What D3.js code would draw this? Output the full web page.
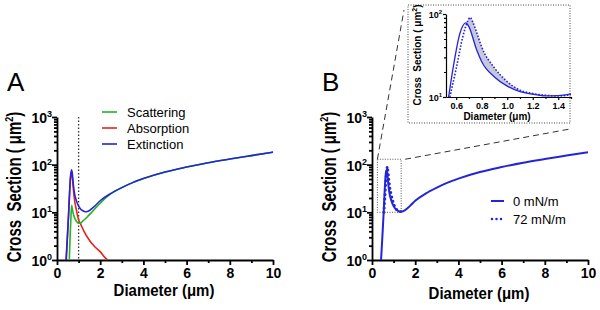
<!DOCTYPE html>
<html>
<head>
<meta charset="utf-8">
<script src="https://cdn.jsdelivr.net/npm/d3@7"></script>
<style>
  body { margin: 0; background: #fff; }
  svg text { font-family: Arial, "Liberation Sans", sans-serif; white-space: pre; }
</style>
</head>
<body>
<div id="chart"></div>
<script>
// data (diameter in um, cross section in um^2)
const extDiam = [0.42, 0.50, 0.54, 0.577, 0.63, 0.675, 0.70, 0.76, 0.80, 0.90, 1.00, 1.10, 1.20, 1.30, 1.40, 1.50, 1.75, 2.00, 2.50, 3.00, 3.50, 4.00, 5.00, 6.00, 7.00, 8.00, 9.00, 10.00];
const extVal  = [1.0, 4.5, 10, 23, 59, 78, 70, 37, 26.6, 17.4, 13.5, 11.6, 10.8, 10.3, 10.4, 10.9, 13.5, 17.5, 25, 33, 42, 51, 70, 89, 110, 131, 155, 183];

const scatDiam = [0.57, 0.60, 0.64, 0.68, 0.72, 0.80, 0.90, 1.00, 1.10, 1.20, 1.40, 1.60, 1.80, 2.00, 2.25, 2.50, 3.00, 3.50, 4.00, 5.00, 6.00, 7.00, 8.00, 9.00, 10.00];
const scatVal  = [1.0, 2.5, 7, 14, 11, 8, 6.5, 5.9, 6.0, 6.6, 8, 10, 12.5, 15.5, 20, 24.6, 33, 42, 51, 70, 89, 110, 131, 155, 183];

const absDiam = [0.43, 0.54, 0.63, 0.675, 0.70, 0.76, 0.80, 0.90, 1.00, 1.10, 1.25, 1.50, 1.75, 2.00, 2.20, 2.35];
const absVal  = [1.0, 9.5, 55, 64, 58, 30, 20, 11, 7, 5.6, 4.0, 2.6, 1.9, 1.5, 1.15, 1.0];

const tenDiam = [0.55, 0.60, 0.65, 0.69, 0.71, 0.73, 0.76, 0.80, 0.90, 1.00, 1.10, 1.20, 1.30, 1.40, 1.50];
const tenVal  = [10, 22, 52, 82, 91, 80, 60, 40, 22.4, 15.3, 12.1, 11.0, 10.5, 10.3, 10.7];

const legendA = ["Scattering", "Absorption", "Extinction"];
const legendB = ["0 mN/m", "72 mN/m"];
const xTicks = [0, 2, 4, 6, 8, 10];
const xMinor = [1, 3, 5, 7, 9];
const yTicks = [1, 10, 100, 1000];
const insetXTicks = [0.6, 0.8, 1.0, 1.2, 1.4];
const insetXMinor = [0.7, 0.9, 1.1, 1.3, 1.5];
const insetYTicks = [10, 100];
const zoomBox = [[0.25, 1.35], [10, 130]];

const blue = "#2424d8", green = "#22b422", red = "#e8221c";

const svg = d3.select("#chart").append("svg")
    .attr("width", 600)
    .attr("height", 310);

const minorLog = [];
[1, 10, 100].forEach(p => { for (let k = 2; k < 10; k++) minorLog.push(k * p); });

function pts(ds, vs) { return ds.map((d, i) => [d, vs[i]]); }

// one main panel
function panel(x0, letter, titleY) {
    const x = d3.scaleLinear().domain([0, 10]).range([x0, x0 + 216]);
    const y = d3.scaleLog().domain([1, 1000]).range([260, 117]);
    const g = svg.append("g");

    // x axis
    g.append("g").attr("transform", "translate(0,260)")
        .call(d3.axisBottom(x).tickValues(xMinor).tickSize(3).tickFormat(""))
        .call(a => a.select(".domain").remove());
    const xa = g.append("g").attr("transform", "translate(0,260)")
        .call(d3.axisBottom(x).tickValues(xTicks).tickSize(5).tickSizeOuter(0));
    xa.selectAll("text").attr("font-size", 14).attr("font-weight", "bold").attr("y", 8).attr("dy", "0.72em");

    // y axis
    g.append("g").attr("transform", `translate(${x0},0)`)
        .call(d3.axisLeft(y).tickValues(minorLog).tickSize(3).tickFormat(""))
        .call(a => a.select(".domain").remove());
    const ya = g.append("g").attr("transform", `translate(${x0},0)`)
        .call(d3.axisLeft(y).tickValues(yTicks).tickSize(5).tickSizeOuter(0));
    ya.selectAll(".tick text").each(function (d) {
        const t = d3.select(this).text("10").attr("font-size", 14).attr("font-weight", "bold").attr("x", -5).attr("dy", "0.4em");
        t.append("tspan").attr("dy", -6).attr("font-size", 9).text(Math.round(Math.log10(d)));
    });

    g.selectAll(".domain, .tick line").attr("stroke", "#000").attr("stroke-width", 1.8);

    // titles (slightly stretched like the original artwork)
    g.append("text")
        .attr("transform", `translate(${x0 + 107},${titleY}) scale(1,1.15)`)
        .attr("text-anchor", "middle").attr("font-size", 15).attr("font-weight", "bold")
        .text("Diameter (μm)");
    const yt = g.append("text")
        .attr("transform", `translate(${x0 - 36},187) rotate(-90) scale(1,1.3)`)
        .attr("text-anchor", "middle").attr("font-size", 15).attr("font-weight", "bold");
    yt.append("tspan").text("Cross  Section ( μm");
    yt.append("tspan").attr("dy", -6).attr("font-size", 9).text("2");
    yt.append("tspan").attr("dy", 6).text(")");

    g.append("text").attr("x", x0 - 50).attr("y", 91).attr("font-size", 26).text(letter);
    return { x, y, g };
}

// panel A
const A = panel(57, "A", 296);
const lineA = d3.line().curve(d3.curveMonotoneX).x(d => A.x(d[0])).y(d => A.y(d[1]));
A.g.append("line")
    .attr("x1", A.x(1)).attr("x2", A.x(1)).attr("y1", A.y(1000)).attr("y2", A.y(1))
    .attr("stroke", "#333").attr("stroke-width", 1.3).attr("stroke-dasharray", "1.5,2");
A.g.append("path").datum(pts(absDiam, absVal)).attr("d", lineA)
    .attr("fill", "none").attr("stroke", red).attr("stroke-width", 1.6);
A.g.append("path").datum(pts(scatDiam, scatVal)).attr("d", lineA)
    .attr("fill", "none").attr("stroke", green).attr("stroke-width", 1.6);
A.g.append("path").datum(pts(extDiam, extVal)).attr("d", lineA)
    .attr("fill", "none").attr("stroke", blue).attr("stroke-width", 1.6);

[green, red, blue].forEach((c, i) => {
    A.g.append("line").attr("x1", 102).attr("x2", 117).attr("y1", 112 + i * 16).attr("y2", 112 + i * 16)
        .attr("stroke", c).attr("stroke-width", 1.6);
    A.g.append("text").attr("x", 127).attr("y", 116.5 + i * 16).attr("font-size", 13).text(legendA[i]);
});

// panel B
const B = panel(372, "B", 299);
const lineB = d3.line().curve(d3.curveMonotoneX).x(d => B.x(d[0])).y(d => B.y(d[1]));
B.g.append("path").datum(pts(tenDiam, tenVal)).attr("d", lineB)
    .attr("fill", "none").attr("stroke", blue).attr("stroke-width", 3)
    .attr("stroke-linecap", "round").attr("stroke-dasharray", "0,4.5");
B.g.append("path").datum(pts(extDiam, extVal)).attr("d", lineB)
    .attr("fill", "none").attr("stroke", blue).attr("stroke-width", 2);

B.g.append("line").attr("x1", 491).attr("x2", 504).attr("y1", 201).attr("y2", 201)
    .attr("stroke", blue).attr("stroke-width", 2);
B.g.append("line").attr("x1", 492).attr("x2", 504).attr("y1", 219).attr("y2", 219)
    .attr("stroke", blue).attr("stroke-width", 2.5).attr("stroke-linecap", "round").attr("stroke-dasharray", "0,4.5");
legendB.forEach((t, i) => {
    B.g.append("text").attr("x", 513).attr("y", 205.5 + i * 18).attr("font-size", 13).text(t);
});

// zoom box and connectors
const bx0 = B.x(zoomBox[0][0]), bx1 = B.x(zoomBox[0][1]);
const by0 = B.y(zoomBox[1][1]), by1 = B.y(zoomBox[1][0]);
B.g.append("rect").attr("x", bx0).attr("y", by0).attr("width", bx1 - bx0).attr("height", by1 - by0)
    .attr("fill", "none").attr("stroke", "#555").attr("stroke-width", 1).attr("stroke-dasharray", "1,1.5");

const box = { x0: 408, x1: 570, y0: 5, y1: 123 };
svg.append("line").attr("x1", bx0).attr("y1", by0).attr("x2", box.x0 - 4).attr("y2", box.y0 + 5)
    .attr("stroke", "#333").attr("stroke-width", 1).attr("stroke-dasharray", "6,4");
svg.append("line").attr("x1", bx1 + 4).attr("y1", by0).attr("x2", box.x1).attr("y2", box.y1 + 6)
    .attr("stroke", "#333").attr("stroke-width", 1).attr("stroke-dasharray", "6,4");

// inset
const ins = svg.append("g");
ins.append("rect").attr("x", box.x0).attr("y", box.y0).attr("width", box.x1 - box.x0).attr("height", box.y1 - box.y0)
    .attr("fill", "#fff").attr("stroke", "#444").attr("stroke-width", 1).attr("stroke-dasharray", "1,1.5");

const xi = d3.scaleLinear().domain([0.52, 1.5]).range([446, 571]);
const yi = d3.scaleLog().domain([10, 100]).range([97, 14]);

svg.append("clipPath").attr("id", "insClip").append("rect")
    .attr("x", 446).attr("y", 10).attr("width", 125).attr("height", 87);

const lineI = d3.line().curve(d3.curveMonotoneX).x(d => xi(d[0])).y(d => yi(d[1]));
const solidPts = pts(extDiam, extVal).filter(d => d[0] >= 0.5 && d[0] <= 1.5);
const dotPts = pts(tenDiam, tenVal);
const upper = dotPts.filter(d => d[0] >= 0.675);
const lower = solidPts.filter(d => d[0] >= 0.675).reverse();
const bandPath = lineI(upper) + lineI(lower).replace(/^M/, "L") + "Z";

const plot = ins.append("g").attr("clip-path", "url(#insClip)");
plot.append("path").attr("d", bandPath)
    .attr("fill", "#c8c8dc").attr("stroke", "none");
plot.append("path").datum(solidPts).attr("d", lineI)
    .attr("fill", "none").attr("stroke", blue).attr("stroke-width", 1.3);
plot.append("path").datum(dotPts).attr("d", lineI)
    .attr("fill", "none").attr("stroke", blue).attr("stroke-width", 1.6).attr("stroke-dasharray", "1.6,1.6");

ins.append("g").attr("transform", "translate(0,97)")
    .call(d3.axisBottom(xi).tickValues(insetXMinor).tickSize(2).tickFormat(""))
    .call(a => a.select(".domain").remove());
const ixa = ins.append("g").attr("transform", "translate(0,97)")
    .call(d3.axisBottom(xi).tickValues(insetXTicks).tickSize(3).tickSizeOuter(0).tickFormat(d3.format(".1f")));
ixa.selectAll("text").attr("font-size", 9).attr("font-weight", "bold").attr("dy", "0.7em");

ins.append("g").attr("transform", "translate(446,0)")
    .call(d3.axisLeft(yi).tickValues([20, 30, 40, 50, 60, 70, 80, 90]).tickSize(2).tickFormat(""))
    .call(a => a.select(".domain").remove());
const iya = ins.append("g").attr("transform", "translate(446,0)")
    .call(d3.axisLeft(yi).tickValues(insetYTicks).tickSize(3).tickSizeOuter(0));
iya.selectAll(".tick text").each(function (d) {
    const t = d3.select(this).text("10").attr("font-size", 9).attr("font-weight", "bold").attr("x", -4).attr("dy", "0.4em");
    t.append("tspan").attr("dy", -4).attr("font-size", 6).text(Math.round(Math.log10(d)));
});
ins.selectAll(".domain, .tick line").attr("stroke", "#000").attr("stroke-width", 1.2);

ins.append("text").attr("x", 497).attr("y", 120).attr("text-anchor", "middle")
    .attr("font-size", 10).attr("font-weight", "bold").text("Diameter (μm)");
const iyt = ins.append("text").attr("transform", "translate(421,55) rotate(-90)")
    .attr("text-anchor", "middle").attr("font-size", 10).attr("font-weight", "bold");
iyt.append("tspan").text("Cross  Section ( μm");
iyt.append("tspan").attr("dy", -4).attr("font-size", 7).text("2");
iyt.append("tspan").attr("dy", 4).text(")");
</script>
</body>
</html>
